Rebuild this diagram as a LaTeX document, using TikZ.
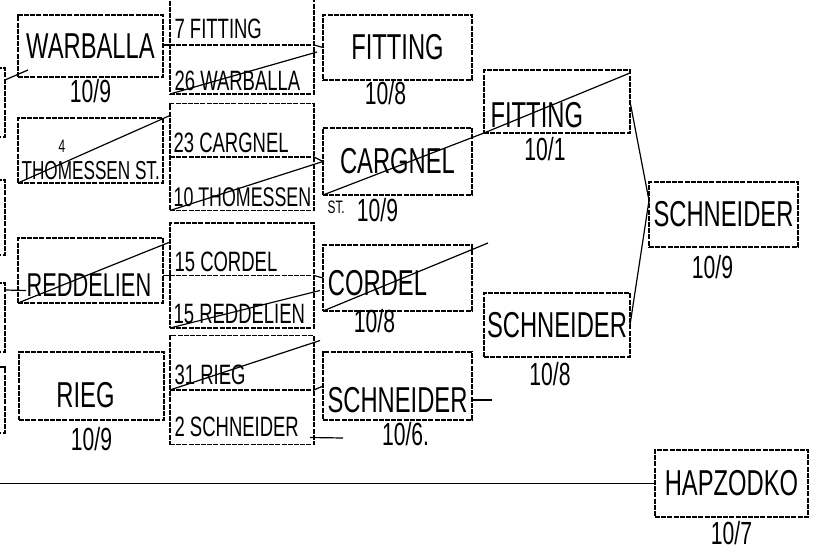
\documentclass[tikz,border=0pt]{standalone}
\usepackage{fontspec}
\setmainfont{Liberation Sans}[FakeStretch=0.66]
\usetikzlibrary{positioning}

\begin{document}
\begin{tikzpicture}[
  x=1pt, y=-1pt, line width=1.2pt,
  box/.style={draw, rectangle, dash pattern=on 5pt off 1.2pt, minimum width=145pt, minimum height=65pt, inner sep=0pt, outer sep=0pt},
  pair/.style={box, minimum width=144pt},
  mid/.style={dash pattern=on 5pt off 1.2pt},
  player/.style={font=\fontsize{36}{38}\selectfont},
  entry/.style={font=\fontsize{28}{30}\selectfont, anchor=base west, inner sep=0pt},
  score/.style={font=\fontsize{32}{34}\selectfont, inner sep=1pt},
  note/.style={font=\fontsize{18}{20}\selectfont, inner sep=0pt},
  node distance=2pt
]
\useasboundingbox (0,0) rectangle (819,551);
\clip (0,0) rectangle (819,551);

\node[box, minimum height=69pt] (lA) at (-67.5,102.5) {};
\node[box, minimum height=75pt] (lB) at (-67.5,217.5) {};
\node[box, minimum height=69pt] (lC) at (-67.5,317.5) {};
\node[box, minimum height=66pt] (lD) at (-67.5,400) {};

\node[box, player, minimum height=62pt] (warballa) at (90.5,46) {WARBALLA};
\node[box] (thomessen) at (90.5,150.5) {};
\node[box] (reddelien) at (90.5,270.5) {};
\node[box, minimum height=68pt] (rieg) at (91.5,386) {};
\node[note] (tfour) at ([shift={(44pt,-28pt)}]thomessen.north west) {4};
\node[entry, font=\fontsize{26}{28}\selectfont] (tthom) at ([shift={(3pt,4pt)}]thomessen.south west) {THOMESSEN ST.};
\node[entry, font=\fontsize{33}{35}\selectfont] (tredd) at ([shift={(8pt,7pt)}]reddelien.south west) {REDDELIEN};
\node[player] (trieg) at ([shift={(-6pt,-9pt)}]rieg.center) {RIEG};

\node[pair, minimum height=98pt] (c2a) at (242,45) {};
\node[pair, minimum height=107pt] (c2b) at (242,157) {};
\node[pair, minimum height=105pt] (c2c) at (242,275.5) {};
\node[pair, minimum height=109pt] (c2d) at (242,390) {};
\draw[mid] (c2a.west) -- (c2a.east);
\draw[mid] (c2b.west) -- (c2b.east);
\draw[mid] (c2c.west) -- (c2c.east);
\draw[mid] (c2d.west) -- (c2d.east);
\node[entry] (e1) at ([shift={(4pt,6pt)}]c2a.west) {7 FITTING};
\node[entry] (e2) at ([shift={(4pt,4pt)}]c2a.south west) {26 WARBALLA};
\node[entry] (e3) at ([shift={(3pt,5pt)}]c2b.west) {23 CARGNEL};
\node[entry, font=\fontsize{27}{29}\selectfont] (e4) at ([shift={(3pt,4pt)}]c2b.south west) {10 THOMESSEN};
\node[entry] (e5) at ([shift={(4pt,4pt)}]c2c.west) {15 CORDEL};
\node[entry] (e6) at ([shift={(3pt,5pt)}]c2c.south west) {15 REDDELIEN};
\node[entry] (e7) at ([shift={(4pt,6pt)}]c2d.west) {31 RIEG};
\node[entry] (e8) at ([shift={(4pt,8pt)}]c2d.south west) {2 SCHNEIDER};

\node[box, player, minimum width=149pt] (fitting3) at (397.5,47.5) {FITTING};
\node[box, player, minimum width=149pt, minimum height=67pt] (cargnel) at (397.5,161.5) {CARGNEL};
\node[box, minimum width=149pt, minimum height=66pt] (cordel) at (397.5,278) {};
\node[box, minimum width=149pt, minimum height=68pt] (schneider3) at (397.5,386) {};
\node[player] (tcord) at ([shift={(-20pt,-5pt)}]cordel.center) {CORDEL};
\node[player] (tschn3) at ([yshift=-14pt]schneider3.center) {SCHNEIDER};

\node[box, minimum width=146pt, minimum height=63pt] (fitting4) at (557,101.5) {};
\node[entry, player] (tfit4) at ([shift={(6pt,6pt)}]fitting4.south west) {FITTING};
\node[box, player, minimum width=146pt, minimum height=64pt] (schneider4) at (557,325) {SCHNEIDER};

\node[box, player, minimum width=149pt] (final) at (723.5,214.5) {SCHNEIDER};
\node[box, player, minimum width=153pt, minimum height=67pt] (hapzodko) at (731.5,483.5) {HAPZODKO};

\node[score, below=1pt of warballa] (sWar) {10/9};
\node[score, below=6pt of rieg] (sRieg) {10/9};
\node[score, below=0pt of fitting3, xshift=-12pt] (sFit3) {10/8};
\node[score, below=2pt of cargnel, xshift=-20pt] (sCarg) {10/9};
\node[note, anchor=north west] (tst) at ([shift={(4pt,-5pt)}]cargnel.south west) {ST.};
\node[score, below=-3pt of cordel, xshift=-23pt] (sCord) {10/8};
\node[score, below=1pt of schneider3, xshift=8pt] (sSchn3) {10/6.};
\node[score, below=3pt of fitting4, xshift=-12pt] (sFit4) {10/1};
\node[score, below=4pt of schneider4, xshift=-7pt] (sSchn4) {10/8};
\node[score, below=7pt of final, xshift=-11pt] (sFinal) {10/9};
\node[score, below=3pt of hapzodko] (sHap) {10/7};

\coordinate (tail2) at (343,438);
\coordinate (tail3) at (492,400);

\draw ([yshift=-12pt]lA.north east) -- ([shift={(10pt,7pt)}]warballa.south west);
\draw (c2a.west -| warballa.east) -- (c2a.west);
\draw (c2a.east) -- (fitting3.west);
\draw (c2a.south west) -- ([shift={(3pt,-7pt)}]c2a.east);
\draw (thomessen.south west) -- ([yshift=-12pt]c2b.north west);
\draw (c2b.east) -- (cargnel.west);
\draw (c2b.south west) -- (cargnel.west);
\draw (cargnel.south west) -- (fitting4.south west);
\draw (fitting4.south west) -- ([yshift=-3pt]fitting4.north east);
\draw (fitting4.east) -- ([yshift=14pt]final.west) -- (schneider4.east);
\draw ([yshift=-7pt]lC.north east) -- ([shift={(8pt,-20pt)}]reddelien.west);
\draw (reddelien.south west) -- ([yshift=-19pt]c2c.north west);
\draw (c2c.west -| reddelien.east) -- (c2c.west);
\draw (c2c.east) -- (cordel.west);
\draw (c2c.south west) -- ([shift={(6pt,-15pt)}]c2c.east);
\draw (cordel.south west) -- ([shift={(16pt,2pt)}]cordel.north east);
\draw (c2d.west) -- ([shift={(6pt,-5pt)}]c2d.north east);
\draw (c2d.east) -- (schneider3.west);
\draw ([shift={(-4pt,7pt)}]c2d.south east) -- (tail2);
\draw (schneider3.east |- tail3) -- (tail3);
\draw (hapzodko.west) -- (hapzodko.west -| lA.west);
\end{tikzpicture}
\end{document}
